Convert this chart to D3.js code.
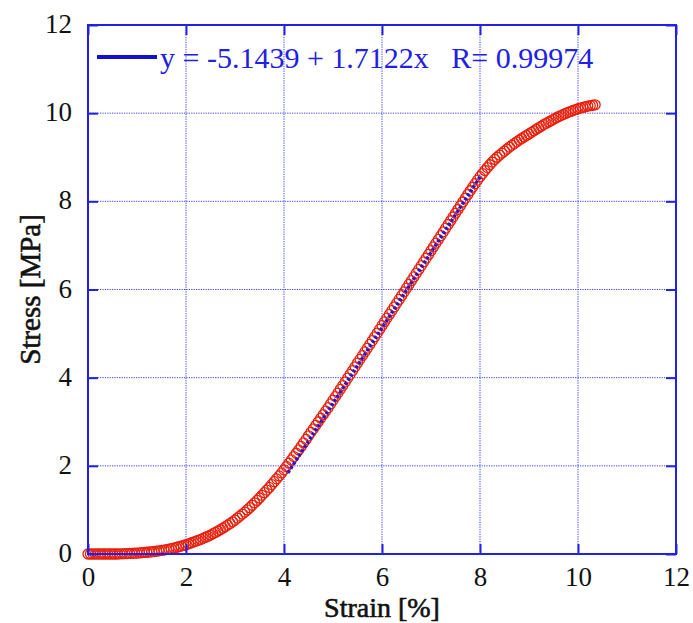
<!DOCTYPE html>
<html>
<head>
<meta charset="utf-8">
<script src="https://cdn.jsdelivr.net/npm/d3@7"></script>
<style>
  html, body { margin: 0; padding: 0; background: #fff; }
  svg text { font-family: "Liberation Serif", "DejaVu Serif", serif; }
</style>
</head>
<body>
<svg id="chart" width="693" height="623"></svg>
<script>
// ---- data ----
const xTicks = [0, 2, 4, 6, 8, 10, 12];
const yTicks = [0, 2, 4, 6, 8, 10, 12];
const xTitle = "Strain [%]";
const yTitle = "Stress [MPa]";
const fitIntercept = -5.1439;
const fitSlope = 1.7122;
const fitR = "0.99974";
const fitRange = [4.08, 8.02];

// measured points: [strain %, stress MPa]
const points = [
[0,0],[0.05,0],[0.1,0],[0.15,0],[0.2,0],[0.25,0],[0.3,0],[0.35,0],[0.4,0],[0.45,0],
[0.5,0],[0.55,0],[0.6,0],[0.65,0.003],[0.7,0.005],[0.75,0.008],[0.8,0.01],[0.85,0.012],[0.9,0.015],[0.95,0.018],
[1.0,0.02],[1.05,0.025],[1.1,0.03],[1.15,0.035],[1.2,0.04],[1.25,0.045],[1.3,0.05],[1.35,0.057],[1.4,0.065],[1.45,0.072],
[1.5,0.08],[1.55,0.09],[1.6,0.1],[1.65,0.11],[1.7,0.12],[1.75,0.135],[1.8,0.15],[1.85,0.165],[1.9,0.18],[1.95,0.195],
[2.0,0.21],[2.05,0.23],[2.1,0.25],[2.15,0.27],[2.2,0.29],[2.25,0.31],[2.3,0.33],[2.35,0.355],[2.4,0.38],[2.45,0.405],
[2.5,0.43],[2.55,0.46],[2.6,0.49],[2.65,0.52],[2.7,0.55],[2.75,0.585],[2.8,0.62],[2.85,0.655],[2.9,0.69],[2.95,0.73],
[3.0,0.77],[3.05,0.815],[3.1,0.86],[3.15,0.905],[3.2,0.95],[3.25,1.0],[3.3,1.05],[3.35,1.105],[3.4,1.16],[3.45,1.215],
[3.5,1.27],[3.55,1.33],[3.6,1.39],[3.65,1.45],[3.7,1.51],[3.75,1.575],[3.8,1.64],[3.85,1.705],[3.9,1.77],[3.95,1.84],
[4.0,1.91],[4.05,1.985],[4.1,2.06],[4.15,2.135],[4.2,2.21],[4.25,2.285],[4.3,2.36],[4.35,2.44],[4.4,2.52],[4.45,2.6],
[4.5,2.68],[4.55,2.76],[4.6,2.84],[4.65,2.92],[4.7,3.0],[4.75,3.08],[4.8,3.16],[4.85,3.24],[4.9,3.32],[4.95,3.405],
[5.0,3.49],[5.05,3.57],[5.1,3.65],[5.15,3.735],[5.2,3.82],[5.25,3.905],[5.3,3.99],[5.35,4.075],[5.4,4.16],[5.45,4.245],
[5.5,4.33],[5.55,4.415],[5.6,4.5],[5.65,4.585],[5.7,4.67],[5.75,4.755],[5.8,4.84],[5.85,4.925],[5.9,5.01],[5.95,5.095],
[6.0,5.18],[6.05,5.265],[6.1,5.35],[6.15,5.435],[6.2,5.52],[6.25,5.605],[6.3,5.69],[6.35,5.775],[6.4,5.86],[6.45,5.945],
[6.5,6.03],[6.55,6.115],[6.6,6.2],[6.65,6.285],[6.7,6.37],[6.75,6.455],[6.8,6.54],[6.85,6.625],[6.9,6.71],[6.95,6.795],
[7.0,6.88],[7.05,6.965],[7.1,7.05],[7.15,7.135],[7.2,7.22],[7.25,7.305],[7.3,7.39],[7.35,7.475],[7.4,7.56],[7.45,7.645],
[7.5,7.73],[7.55,7.815],[7.6,7.9],[7.65,7.985],[7.7,8.07],[7.75,8.155],[7.8,8.24],[7.85,8.32],[7.9,8.4],[7.95,8.48],
[8.0,8.56],[8.05,8.63],[8.1,8.7],[8.15,8.765],[8.2,8.83],[8.25,8.89],[8.3,8.95],[8.35,9.0],[8.4,9.05],[8.45,9.095],
[8.5,9.14],[8.55,9.185],[8.6,9.23],[8.65,9.27],[8.7,9.31],[8.75,9.35],[8.8,9.39],[8.85,9.425],[8.9,9.46],[8.95,9.495],
[9.0,9.53],[9.05,9.565],[9.1,9.6],[9.15,9.635],[9.2,9.67],[9.25,9.705],[9.3,9.74],[9.35,9.77],[9.4,9.8],[9.45,9.83],
[9.5,9.86],[9.55,9.89],[9.6,9.92],[9.65,9.945],[9.7,9.97],[9.75,9.995],[9.8,10.02],[9.85,10.04],[9.9,10.06],[9.95,10.08],
[10.0,10.1],[10.05,10.115],[10.1,10.13],[10.15,10.145],[10.2,10.16],[10.25,10.17],[10.3,10.18],[10.35,10.19]
];

// ---- layout ----
const svg = d3.select("#chart");
const L = 88, R = 676, T = 25, B = 554;
const x = d3.scaleLinear().domain([0, 12]).range([L, R]);
const y = d3.scaleLinear().domain([0, 12]).range([B, T]);
const blue = "#2020e6";
const gridBlue = "#3c3cff";
const red = "#e8200c";

// grid
const g = svg.append("g");
g.selectAll("line.gx").data(xTicks.filter(d => d > 0 && d < 12)).join("line")
  .attr("x1", d => x(d)).attr("x2", d => x(d)).attr("y1", T).attr("y2", B)
  .attr("stroke", gridBlue).attr("stroke-width", 1).attr("stroke-dasharray", "1.2,1.2");
g.selectAll("line.gy").data(yTicks.filter(d => d > 0 && d < 12)).join("line")
  .attr("y1", d => y(d)).attr("y2", d => y(d)).attr("x1", L).attr("x2", R)
  .attr("stroke", gridBlue).attr("stroke-width", 1).attr("stroke-dasharray", "1.2,1.2");

// data circles
svg.append("g").selectAll("circle").data(points).join("circle")
  .attr("cx", d => x(d[0])).attr("cy", d => y(d[1])).attr("r", 5)
  .attr("fill", "none").attr("stroke", red).attr("stroke-width", 1.3);

// fit line
const fitLine = d3.line().x(d => x(d)).y(d => y(fitIntercept + fitSlope * d));
svg.append("path").datum(fitRange).attr("d", fitLine)
  .attr("fill", "none").attr("stroke", "#1a1ad8").attr("stroke-width", 3.4)
  .attr("stroke-dasharray", "2.8,2.2");

// axes with inward ticks on all sides
const tickLen = 10;
const axB = svg.append("g").attr("transform", `translate(0,${B})`)
  .call(d3.axisBottom(x).tickValues(xTicks).tickSizeInner(-tickLen).tickSizeOuter(0).tickPadding(13).tickFormat(d3.format("d")));
const axT = svg.append("g").attr("transform", `translate(0,${T})`)
  .call(d3.axisTop(x).tickValues(xTicks).tickSizeInner(-tickLen).tickSizeOuter(0).tickFormat(""));
const axL = svg.append("g").attr("transform", `translate(${L},0)`)
  .call(d3.axisLeft(y).tickValues(yTicks).tickSizeInner(-tickLen).tickSizeOuter(0).tickPadding(16).tickFormat(d3.format("d")));
const axR = svg.append("g").attr("transform", `translate(${R},0)`)
  .call(d3.axisRight(y).tickValues(yTicks).tickSizeInner(-tickLen).tickSizeOuter(0).tickFormat(""));
[axB, axT, axL, axR].forEach(a => {
  a.select(".domain").remove();
  a.selectAll(".tick line").attr("stroke", blue).attr("stroke-width", 2);
  a.selectAll(".tick text").attr("fill", "#111").style("font-family", "'Liberation Serif', serif").style("font-size", "27px");
});
axB.selectAll(".tick text").attr("dy", "0.71em");
axL.selectAll(".tick text").attr("dy", "0.28em");

// frame
svg.append("rect").attr("x", L).attr("y", T).attr("width", R - L).attr("height", B - T)
  .attr("fill", "none").attr("stroke", blue).attr("stroke-width", 2);

// axis titles
svg.append("text").attr("x", 382).attr("y", 617).attr("text-anchor", "middle")
  .style("font-size", "28px").attr("fill", "#111").attr("stroke", "#111").attr("stroke-width", 0.6)
  .text(xTitle);
svg.append("text").attr("transform", `translate(40,${(T + B) / 2}) rotate(-90)`).attr("text-anchor", "middle")
  .style("font-size", "29px").attr("fill", "#111").attr("stroke", "#111").attr("stroke-width", 0.6)
  .text(yTitle);

// legend
svg.append("line").attr("x1", 97).attr("x2", 157).attr("y1", 57).attr("y2", 57)
  .attr("stroke", "#1010d0").attr("stroke-width", 4);
svg.append("text").attr("x", 160).attr("y", 68).attr("fill", blue)
  .style("font-size", "30px").style("white-space", "pre")
  .text(`y = ${fitIntercept} + ${fitSlope}x   R= ${fitR}`);
</script>
</body>
</html>
